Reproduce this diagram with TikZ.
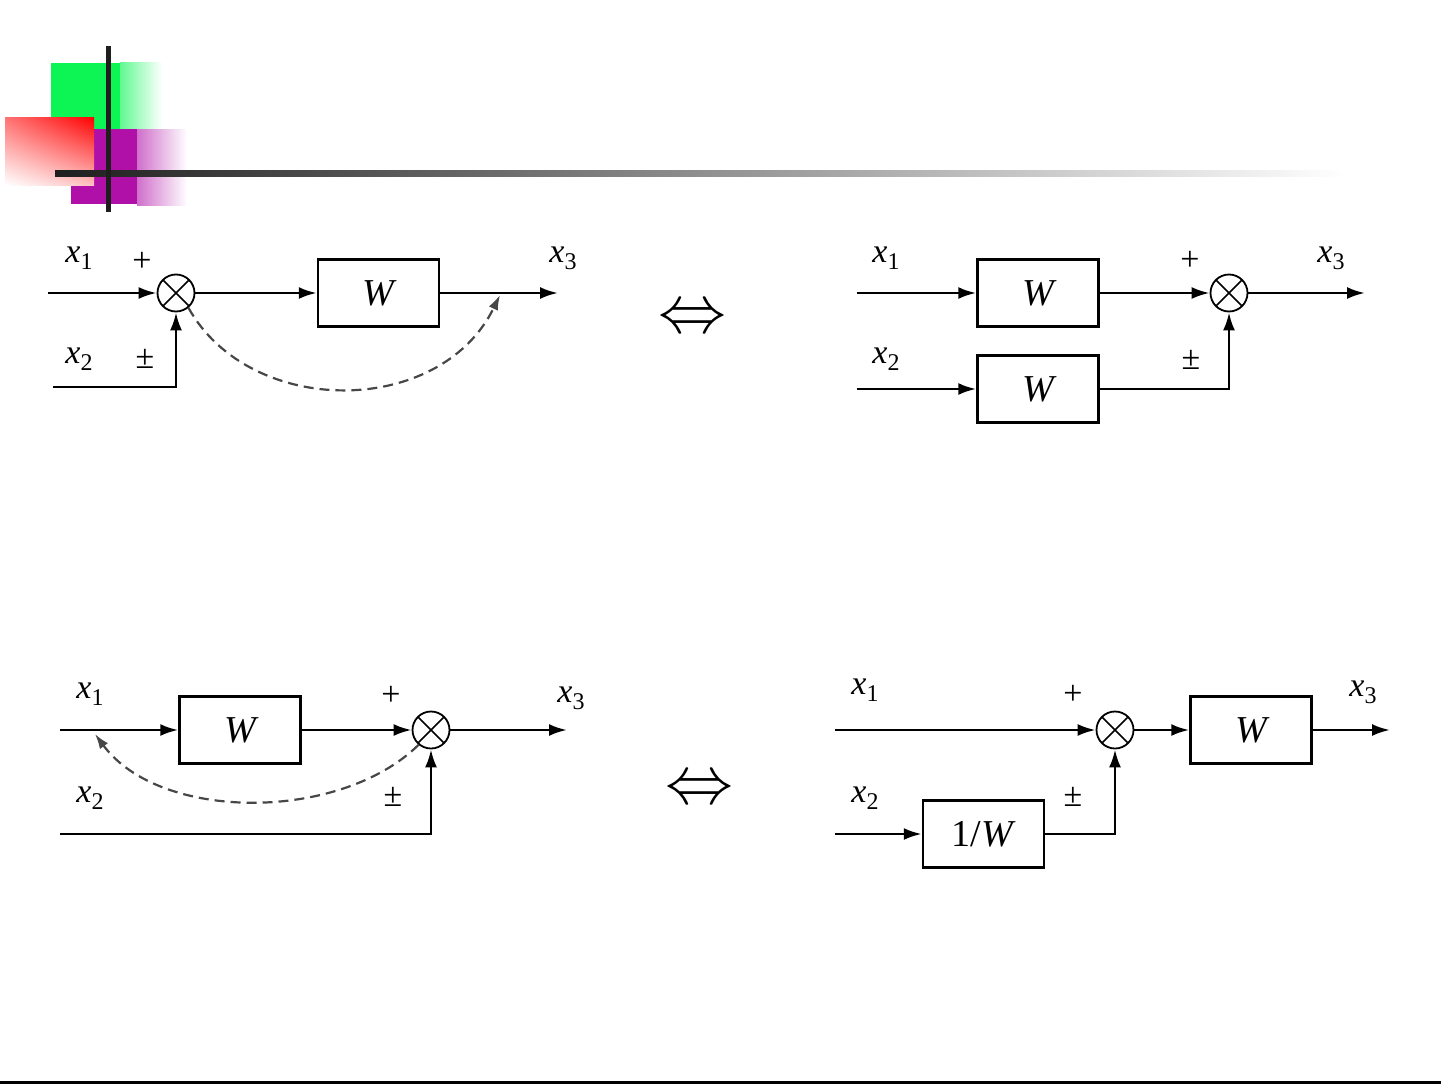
\documentclass[tikz,border=0pt]{standalone}
\usepackage{fontspec}
\setmainfont{Liberation Serif}
\usetikzlibrary{arrows.meta,calc,shadings}
\definecolor{dgreen}{HTML}{0CF555}
\definecolor{dmag}{HTML}{B00FA8}
\definecolor{dline}{HTML}{1E1E1E}
\newcommand{\xv}[1]{\textit{x}\kern0.3pt\raisebox{-0.45ex}{\fontsize{24}{24}\selectfont #1}}
\tikzset{
  blk/.style={draw, line width=2.5pt, minimum width=121pt, minimum height=67pt, inner sep=0pt,
    font=\fontsize{38}{38}\selectfont\itshape},
  sumc/.style={circle, draw, line width=1.8pt, minimum size=37pt, inner sep=0pt,
    path picture={\draw[line width=1.5pt] (path picture bounding box.north west) -- (path picture bounding box.south east)
      (path picture bounding box.north east) -- (path picture bounding box.south west);}},
  lbl/.style={font=\fontsize{34}{34}\selectfont, inner sep=0pt},
  sgn/.style={font=\fontsize{34}{34}\selectfont, inner sep=0pt},
  eqv/.style={inner sep=0pt},
  flow/.style={-{Latex[length=18pt,width=12pt]}, line width=2.6pt},
  darc/.style={-{Latex[length=15pt,width=10pt]}, dash pattern=on 10pt off 6pt, line width=2.2pt, draw=black!72}
}
\begin{document}
\begin{tikzpicture}[x=1pt,y=-1pt]
\useasboundingbox (0,0) rectangle (1441,1084);
% ---------- decoration ----------
\fill[dgreen] (51,63) rectangle (120,129);
\shade[left color=dgreen!65!white, right color=white] (120,62) rectangle (162,129);
\fill[dmag] (71,129) rectangle (137,204);
\shade[left color=dmag!60!white, right color=white] (137,129) rectangle (187,205);
\shade[upper right=red, upper left=red!55!white, lower right=red!25!white, lower left=white] (5,117) rectangle (94,185);
\shade[left color=dline, right color=white] (55,170) rectangle (1345,176);
\fill[dline] (106,46) rectangle (111,212);
\fill[black] (0,1081) rectangle (1441,1084);

% ---------- top left ----------
\node[sumc] (s1) at (176,293) {};
\node[blk] (b1) at (378.5,293) {W};
\coordinate (i1) at (48,293);
\coordinate (o1) at (558,293);
\coordinate (i2) at (53,387);
\coordinate (d1) at (500,295);
\draw[flow] (i1) -- (s1.west);
\draw[flow] (s1.east) -- (b1.west);
\draw[flow] (b1.east) -- (o1);
\draw[flow] (i2) -| (s1.south);
\draw[darc] (s1.-50) .. controls (250,418) and (440,418) .. (d1);
\node[lbl] (l1a) at (79,258) {\xv{1}};
\node[lbl] (l1b) at (79,359) {\xv{2}};
\node[lbl] (l1c) at (563,258) {\xv{3}};
\node[sgn] (p1a) at (142,262) {+};
\node[sgn] (p1b) at (145,359) {±};

\node[eqv] (e1) at (692,320) {\resizebox{68pt}{!}{$\Leftrightarrow$}};

% ---------- top right ----------
\node[blk] (b2) at (1038,293) {W};
\node[blk] (b3) at (1038,389) {W};
\node[sumc] (s2) at (1229,293) {};
\coordinate (i3) at (857,293);
\coordinate (i4) at (857,389);
\coordinate (o2) at (1365,293);
\draw[flow] (i3) -- (b2.west);
\draw[flow] (i4) -- (b3.west);
\draw[flow] (b2.east) -- (s2.west);
\draw[flow] (b3.east) -| (s2.south);
\draw[flow] (s2.east) -- (o2);
\node[lbl] (l2a) at (886,258) {\xv{1}};
\node[lbl] (l2b) at (886,359) {\xv{2}};
\node[lbl] (l2c) at (1331,258) {\xv{3}};
\node[sgn] (p2a) at (1190,261) {+};
\node[sgn] (p2b) at (1191,360) {±};

% ---------- bottom left ----------
\node[blk] (b4) at (240,730) {W};
\node[sumc] (s3) at (431,730) {};
\coordinate (i5) at (60,730);
\coordinate (i6) at (60,834);
\coordinate (o3) at (567,730);
\coordinate (d2) at (95,734);
\draw[flow] (i5) -- (b4.west);
\draw[flow] (b4.east) -- (s3.west);
\draw[flow] (s3.east) -- (o3);
\draw[flow] (i6) -| (s3.south);
\draw[darc] (s3.-130) .. controls (340,822) and (160,822) .. (d2);
\node[lbl] (l3a) at (90,694) {\xv{1}};
\node[lbl] (l3b) at (90,798) {\xv{2}};
\node[lbl] (l3c) at (571,698) {\xv{3}};
\node[sgn] (p3a) at (391,696) {+};
\node[sgn] (p3b) at (393,797) {±};

\node[eqv] (e2) at (699,791) {\resizebox{68pt}{!}{$\Leftrightarrow$}};

% ---------- bottom right ----------
\node[sumc] (s4) at (1115,730) {};
\node[blk] (b5) at (1251,730) {W};
\node[blk, font=\fontsize{38}{38}\selectfont] (b6) at (983.5,834) {1/\textit{W}};
\coordinate (i7) at (835,730);
\coordinate (i8) at (835,834);
\coordinate (o4) at (1390,730);
\draw[flow] (i7) -- (s4.west);
\draw[flow] (s4.east) -- (b5.west);
\draw[flow] (b5.east) -- (o4);
\draw[flow] (i8) -- (b6.west);
\draw[flow] (b6.east) -| (s4.south);
\node[lbl] (l4a) at (865,690) {\xv{1}};
\node[lbl] (l4b) at (865,798) {\xv{2}};
\node[lbl] (l4c) at (1363,692) {\xv{3}};
\node[sgn] (p4a) at (1073,695) {+};
\node[sgn] (p4b) at (1073,797) {±};
\end{tikzpicture}
\end{document}
